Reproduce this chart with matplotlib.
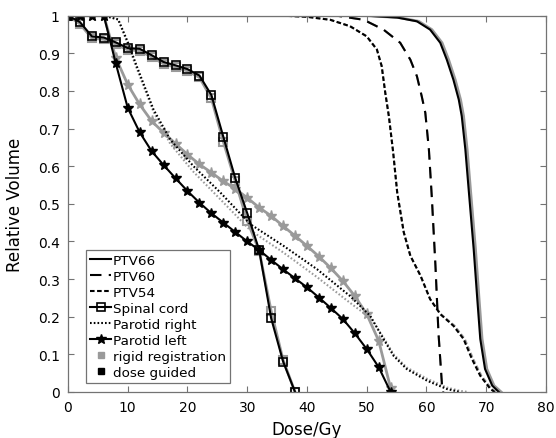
import numpy as np
import matplotlib.pyplot as plt
from matplotlib.lines import Line2D

# ============================================================================
# DADOS
# ============================================================================

# PTV66
ptv66_x = [0, 50, 55.1, 58.4, 60.6, 62.3, 63.4, 64.5, 65.4, 65.9, 66.5, 67.1, 67.9, 68.5, 69.0, 69.8, 71.0, 72.1]
ptv66_y = [1, 1, 0.995, 0.985, 0.963, 0.928, 0.883, 0.830, 0.777, 0.733, 0.645, 0.530, 0.379, 0.247, 0.141, 0.061, 0.017, 0]
ptv66_rig_x = [0, 50, 55.4, 58.7, 60.9, 62.6, 63.7, 64.8, 65.7, 66.2, 66.8, 67.4, 68.2, 68.8, 69.3, 70.1, 71.3, 72.5]

# PTV60
ptv60_x = [0, 45, 49.5, 52.8, 55.6, 57.3, 58.4, 59.2, 59.8, 60.4, 60.9, 61.5, 62.0, 62.6, 62.8]
ptv60_y = [1, 1, 0.989, 0.963, 0.928, 0.883, 0.839, 0.786, 0.742, 0.645, 0.515, 0.335, 0.158, 0.017, 0]

# PTV54
ptv54_x = [0, 36, 40, 43.9, 47.2, 50.0, 51.7, 52.5, 53.1, 53.7, 54.4, 55.1, 56.2, 57.3, 59.0, 60.6,
           62.3, 64.5, 66.2, 67.6, 69.0, 70.7, 71.4]
ptv54_y = [1, 1, 0.997, 0.989, 0.972, 0.945, 0.91, 0.866, 0.795, 0.733, 0.64, 0.53, 0.424, 0.362, 0.309, 0.247,
           0.207, 0.176, 0.141, 0.088, 0.043, 0.008, 0]
ptv54_rig_x = [0, 36, 40, 43.9, 47.2, 50.0, 51.7, 52.5, 53.1, 53.7, 54.4, 55.1, 56.2, 57.3, 59.0, 60.6,
               62.4, 64.7, 66.4, 67.8, 69.2, 70.9, 71.6]

# Medula espinhal (Spinal cord)
cord_x = [0, 2, 4, 6, 8, 10, 12, 14, 16, 18, 20, 22, 24, 26, 28, 30, 32, 34, 36, 38]
cord_y = [1, 0.983, 0.945, 0.942, 0.929, 0.914, 0.912, 0.895, 0.877, 0.868, 0.858, 0.841,
          0.789, 0.678, 0.568, 0.475, 0.377, 0.196, 0.081, 0.0]
cord_rig_y = [1, 0.978, 0.940, 0.937, 0.924, 0.909, 0.907, 0.890, 0.872, 0.863, 0.853, 0.836,
              0.780, 0.665, 0.560, 0.455, 0.375, 0.215, 0.085, 0.0]

# Parótida direita
par_r_x = [0, 6, 8.4, 10, 11.5, 14.3, 17.1, 21.0, 25.5, 30.5, 36.1, 41.7, 47.2, 50.6,
           52.8, 54.5, 56.7, 60.1, 63.4, 65.6]
par_r_y = [1, 1, 0.99, 0.93, 0.866, 0.751, 0.671, 0.600, 0.530, 0.446, 0.388, 0.326, 0.255, 0.202,
           0.141, 0.096, 0.061, 0.030, 0.008, 0]
par_r_rig_x = [0, 6, 8.4, 10, 11.5, 14.3, 17.1, 21.0, 25.5, 30.5, 36.1, 41.7, 47.2, 50.6,
               52.8, 54.5, 56.7, 60.1, 63.4, 65.6, 67.0]
par_r_rig_y = [1, 1, 0.99, 0.925, 0.86, 0.745, 0.66, 0.585, 0.512, 0.43, 0.37, 0.305, 0.237, 0.197,
               0.145, 0.10, 0.065, 0.035, 0.012, 0.003, 0]

# Parótida esquerda
par_l_x = list(range(0, 56, 2))
par_l_y = [1, 1, 1, 1, 0.873, 0.755, 0.69, 0.64, 0.603, 0.568, 0.534, 0.503, 0.475, 0.45,
           0.425, 0.40, 0.377, 0.351, 0.326, 0.302, 0.278, 0.251, 0.223, 0.194, 0.156, 0.114, 0.066, 0.0]
par_l_rig_y = [1, 1, 1, 1, 0.888, 0.817, 0.764, 0.720, 0.689, 0.660, 0.631, 0.605, 0.583, 0.560,
               0.540, 0.516, 0.490, 0.468, 0.441, 0.415, 0.388, 0.360, 0.329, 0.295, 0.255, 0.207, 0.136, 0.01]

legenda = ['PTV66', 'PTV60', 'PTV54', 'Spinal cord', 'Parotid right', 'Parotid left',
           'rigid registration', 'dose guided']

# ============================================================================
# GRÁFICO
# ============================================================================

CINZA = '#9a9a9a'
lw = 1.5
tracos_60 = (0, (5.5, 3.5))
tracos_54 = (0, (2.2, 1.2))
pontos = (0, (0.8, 1.0))

fig = plt.figure(figsize=(5.56, 4.39), dpi=100)
ax = fig.add_axes([0.1223, 0.1048, 0.8597, 0.8572])

# registro rígido (cinza), por baixo
ax.plot(ptv66_rig_x, ptv66_y, '-', color=CINZA, lw=lw + 0.5)
ax.plot(ptv60_x, ptv60_y, color=CINZA, lw=lw, linestyle=tracos_60)
ax.plot(ptv54_rig_x, ptv54_y, color=CINZA, lw=lw, linestyle=tracos_54)
ax.plot(cord_x, cord_rig_y, '-', color=CINZA, lw=lw + 0.5, marker='s', ms=6,
        mfc='none', mec=CINZA, mew=1.5)
ax.plot(par_r_rig_x, par_r_rig_y, color=CINZA, lw=lw, linestyle=pontos)
ax.plot(par_l_x, par_l_rig_y, '-', color=CINZA, lw=lw + 0.5, marker='*', ms=8, mec=CINZA)

# guiado por dose (preto)
ax.plot(ptv66_x, ptv66_y, '-', color='k', lw=lw)
ax.plot(ptv60_x, ptv60_y, color='k', lw=lw, linestyle=tracos_60)
ax.plot(ptv54_x, ptv54_y, color='k', lw=lw, linestyle=tracos_54)
ax.plot(cord_x, cord_y, '-', color='k', lw=lw, marker='s', ms=6,
        mfc='none', mec='k', mew=1.2)
ax.plot(par_r_x, par_r_y, color='k', lw=lw, linestyle=pontos)
ax.plot(par_l_x, par_l_y, '-', color='k', lw=lw, marker='*', ms=7, mec='k')

ax.set_xlim(0, 80)
ax.set_ylim(0, 1)
ax.set_xticks(np.arange(0, 81, 10))
ax.set_yticks(np.arange(0, 1.01, 0.1))
ax.set_yticklabels(['0', '0.1', '0.2', '0.3', '0.4', '0.5', '0.6', '0.7', '0.8', '0.9', '1'])
ax.tick_params(direction='in', top=True, right=True, labelsize=10, color='0.45', length=4, pad=6)
for s in ax.spines.values():
    s.set_color('0.45')
    s.set_linewidth(0.9)

ax.set_xlabel('Dose/Gy', fontsize=12, labelpad=4)
ax.set_ylabel('Relative Volume', fontsize=12, labelpad=10)

handles = [
    Line2D([], [], color='k', lw=lw),
    Line2D([], [], color='k', lw=lw, linestyle=tracos_60),
    Line2D([], [], color='k', lw=lw, linestyle=tracos_54),
    Line2D([], [], color='k', lw=lw, marker='s', ms=6, mfc='none', mec='k', mew=1.2),
    Line2D([], [], color='k', lw=lw, linestyle=pontos),
    Line2D([], [], color='k', lw=lw, marker='*', ms=7),
    Line2D([], [], color=CINZA, lw=0, marker='s', ms=5),
    Line2D([], [], color='k', lw=0, marker='s', ms=5),
]
leg = ax.legend(handles, legenda, loc='lower left', bbox_to_anchor=(0.037, 0.024),
                fontsize=9.7, handlelength=1.6, handletextpad=0.1, labelspacing=0.22,
                borderpad=0.3, borderaxespad=0, fancybox=False, framealpha=1)
leg.get_frame().set_edgecolor('0.45')
leg.get_frame().set_linewidth(0.9)

plt.savefig('out.png', dpi=100)
plt.close()
